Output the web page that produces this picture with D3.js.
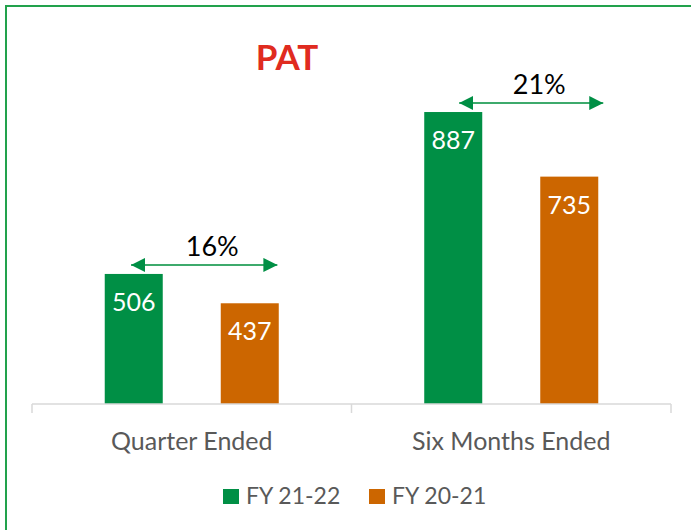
<!DOCTYPE html>
<html>
<head>
<meta charset="utf-8">
<script src="https://cdn.jsdelivr.net/npm/d3@7"></script>
<style>
  body { margin: 0; background: #fff; }
  text { font-family: Lato, "Open Sans", sans-serif; }
</style>
</head>
<body>
<div id="chart"></div>
<script>
const categories = ["Quarter Ended", "Six Months Ended"];
const seriesNames = ["FY 21-22", "FY 20-21"];
const fy2122 = [506, 887];
const fy2021 = [437, 735];
const growthLabels = ["16%", "21%"];
const colors = ["#008F45", "#CC6600"];

const W = 691, H = 530;
const margin = {top: 64, left: 32, right: 20, bottom: 126};
const width = 671 - margin.left;
const baseY = 404;

const svg = d3.select("#chart").append("svg")
  .attr("width", W)
  .attr("height", H);

// frame
svg.append("rect")
  .attr("x", 6).attr("y", 6)
  .attr("width", 720).attr("height", 560)
  .attr("fill", "none")
  .attr("stroke", "#22A24C")
  .attr("stroke-width", 2);

const x0 = d3.scaleBand()
  .domain(categories)
  .range([margin.left, margin.left + width]);

const x1 = d3.scaleBand()
  .domain(seriesNames)
  .range([0, x0.bandwidth()])
  .paddingInner(0.5)
  .paddingOuter(0.627);

const y = d3.scaleLinear()
  .domain([200, 1000])
  .range([baseY, margin.top]);

const rows = categories.map((c, i) => ({
  cat: c,
  vals: [fy2122[i], fy2021[i]],
  growth: growthLabels[i]
}));

// title
svg.append("text")
  .attr("x", 287).attr("y", 70)
  .attr("text-anchor", "middle")
  .attr("font-size", 35)
  .attr("font-weight", "bold")
  .attr("fill", "#E02B20")
  .text("PAT");

// bars
const groups = svg.selectAll(".grp")
  .data(rows)
  .enter().append("g")
  .attr("class", "grp")
  .attr("transform", d => `translate(${x0(d.cat)},0)`);

groups.selectAll("rect")
  .data(d => d.vals.map((v, j) => ({name: seriesNames[j], v, j})))
  .enter().append("rect")
  .attr("x", d => x1(d.name))
  .attr("width", x1.bandwidth())
  .attr("y", d => y(d.v))
  .attr("height", d => baseY - y(d.v))
  .attr("fill", d => colors[d.j]);

groups.selectAll(".label")
  .data(d => d.vals.map((v, j) => ({name: seriesNames[j], v, j})))
  .enter().append("text")
  .attr("class", "label")
  .attr("x", d => x1(d.name) + x1.bandwidth() / 2)
  .attr("y", d => y(d.v) + 37)
  .attr("text-anchor", "middle")
  .attr("font-size", 25)
  .attr("fill", "#fff")
  .text(d => d.v);

// growth arrows
const defs = svg.append("defs");
["start", "end"].forEach(k => {
  defs.append("marker")
    .attr("id", "arr-" + k)
    .attr("viewBox", "0 0 14 14")
    .attr("refX", k === "end" ? 14 : 0)
    .attr("refY", 7)
    .attr("markerUnits", "userSpaceOnUse")
    .attr("markerWidth", 14).attr("markerHeight", 14)
    .attr("orient", "auto")
    .append("path")
    .attr("d", k === "end" ? "M0,0L14,7L0,14Z" : "M14,0L0,7L14,14Z")
    .attr("fill", "#008F45");
});

const arrowSpan = [[0.31, 0.768], [0.337, 0.788]];
groups.each(function(d, i) {
  const g = d3.select(this);
  const bw = x0.bandwidth();
  const ay = y(d.vals[0]) - 9;
  const ax0 = bw * arrowSpan[i][0], ax1 = bw * arrowSpan[i][1];
  g.append("line")
    .attr("x1", ax0).attr("x2", ax1)
    .attr("y1", ay).attr("y2", ay)
    .attr("stroke", "#3DAA6C")
    .attr("stroke-width", 2)
    .attr("marker-start", "url(#arr-start)")
    .attr("marker-end", "url(#arr-end)");
  g.append("text")
    .attr("x", (ax0 + ax1) / 2 + 8)
    .attr("y", ay - 9)
    .attr("text-anchor", "middle")
    .attr("font-size", 27)
    .attr("fill", "#000")
    .text(d.growth);
});

// x axis
const axis = svg.append("g")
  .attr("transform", `translate(0,${baseY})`)
  .call(d3.axisBottom(x0).tickSize(0).tickPadding(0).tickFormat(""));
axis.select(".domain").remove();
axis.append("line")
  .attr("x1", margin.left).attr("x2", margin.left + width)
  .attr("stroke", "#D9D9D9").attr("stroke-width", 1.5);
const tickXs = [x0.range()[0]].concat(categories.map(c => x0(c) + x0.bandwidth()));
axis.selectAll(".sep")
  .data(tickXs)
  .enter().append("line")
  .attr("x1", d => d).attr("x2", d => d)
  .attr("y1", 0).attr("y2", 9)
  .attr("stroke", "#D9D9D9").attr("stroke-width", 1.5);
axis.selectAll(".cat")
  .data(categories)
  .enter().append("text")
  .attr("x", d => x0(d) + x0.bandwidth() / 2)
  .attr("y", 46)
  .attr("text-anchor", "middle")
  .attr("font-size", 25)
  .attr("fill", "#595959")
  .text(d => d);

// legend
const legendX = [223, 369];
const legend = svg.selectAll(".leg")
  .data(seriesNames)
  .enter().append("g")
  .attr("transform", (d, i) => `translate(${legendX[i]},489)`);
legend.append("rect")
  .attr("width", 16).attr("height", 15)
  .attr("fill", (d, i) => colors[i]);
legend.append("text")
  .attr("x", 23).attr("y", 15)
  .attr("font-size", 23)
  .attr("fill", "#595959")
  .text(d => d);
</script>
</body>
</html>
